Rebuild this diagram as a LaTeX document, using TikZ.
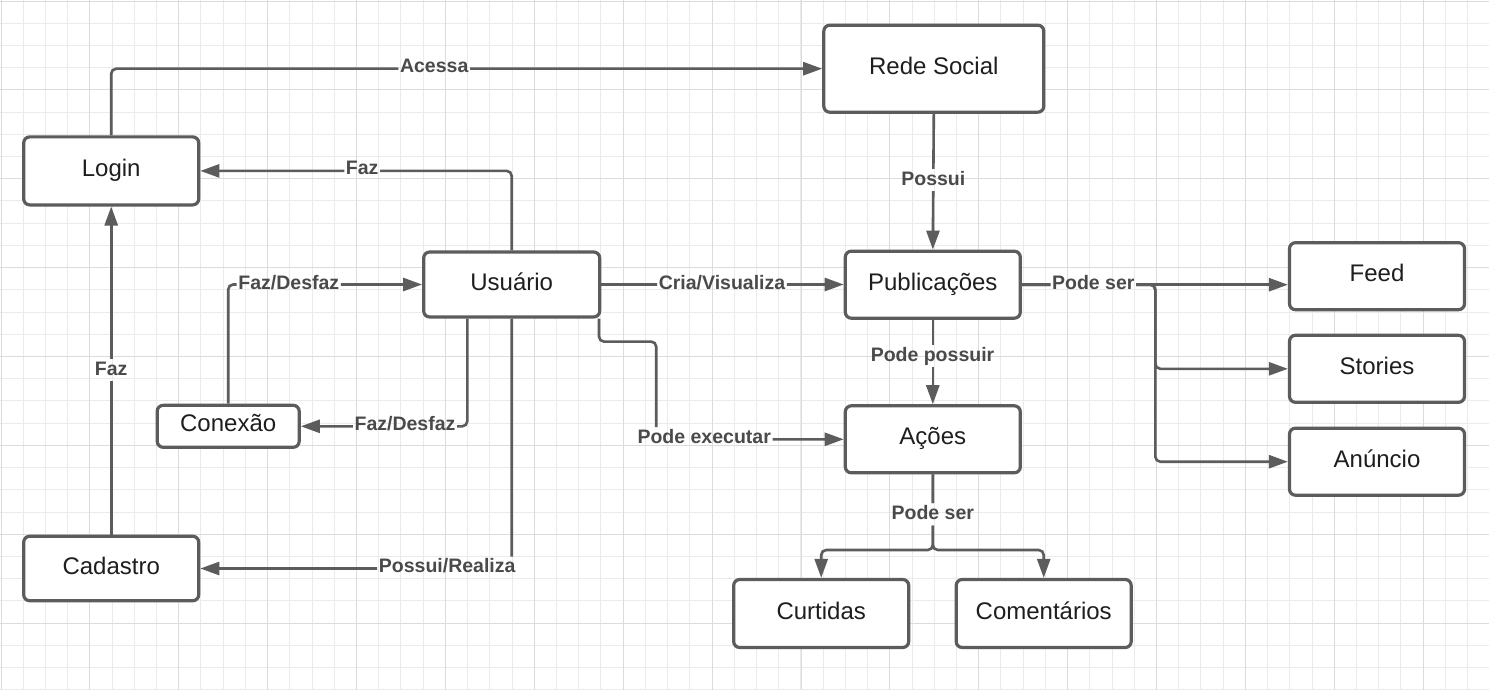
\documentclass[tikz,border=0pt]{standalone}
\usepackage{fontspec}
\setmainfont{Liberation Sans}
\usetikzlibrary{arrows.meta}
\definecolor{gridminor}{HTML}{EBEBEB}
\definecolor{gridmajor}{HTML}{DCDCDC}
\definecolor{linec}{HTML}{5C5C5C}
\definecolor{boxc}{HTML}{5C5C5C}
\definecolor{txtc}{HTML}{1E1E1E}
\definecolor{lblc}{HTML}{4A4A4A}
\tikzset{
  box/.style={draw=boxc, line width=3.2bp, rounded corners=6bp, fill=white, inner sep=0pt,
    minimum width=175bp, minimum height=67bp, text=txtc,
    font=\fontsize{24bp}{28bp}\selectfont, text height=17bp, text depth=6bp},
  lbl/.style={anchor=base, inner sep=1.5bp, text=lblc,
    font=\fontsize{19.5bp}{23bp}\selectfont\bfseries, text height=14.5bp, text depth=4.5bp},
  edge/.style={draw=linec, line width=2.6bp, rounded corners=5bp},
  arr/.style={-{Triangle[length=19bp,width=13bp]}},
  gline/.style={line width=1bp},
}
\begin{document}
\begin{tikzpicture}[x=1bp,y=-1bp]
\useasboundingbox (0,0) rectangle (1489,690);
\fill[white] (0,0) rectangle (1489,690);
% grid (pixel aligned)
\foreach \i in {0,...,67} \draw[gridminor, gline] ({int(1+22.2222*\i)+0.5},0) -- ++(0,690);
\foreach \j in {0,...,31} \draw[gridminor, gline] (0,{int(1+22.2222*\j)+0.5}) -- ++(1489,0);
\foreach \i in {0,...,16} \draw[gridmajor, gline] ({int(1+88.8889*\i)+0.5},0) -- ++(0,690);
\foreach \j in {0,...,7} \draw[gridmajor, gline] (0,{int(1+88.8889*\j)+0.5}) -- ++(1489,0);

% nodes
\node[box, minimum height=68bp] (login) at (111.2,170.9) {Login};
\node[box, minimum height=64.5bp] (cadastro) at (111.2,568.5) {Cadastro};
\node[box, minimum width=176bp, minimum height=65bp] (usuario) at (511.7,284.5) {Usuário};
\node[box, minimum width=220bp, minimum height=87bp] (rede) at (933.8,68.7) {Rede Social};
\node[box] (pub) at (932.8,284.7) {Publicações};
\node[box] (acoes) at (932.8,439.3) {Ações};
\node[box, minimum width=142bp, minimum height=42bp] (conexao) at (228.2,426.3) {Conexão};
\node[box] (feed) at (1377,276.2) {Feed};
\node[box] (stories) at (1377,368.8) {Stories};
\node[box] (anuncio) at (1377,461.7) {Anúncio};
\node[box, minimum height=68bp] (curtidas) at (821.2,613.5) {Curtidas};
\node[box, minimum height=68bp] (coment) at (1043.7,613.5) {Comentários};

% labels
\node[lbl] (lAcessa) at (434.2,72.5) {Acessa};
\node[lbl] (lFazA) at (362.2,174) {Faz};
\node[lbl] (lFazB) at (111.2,375) {Faz};
\node[lbl] (lFDA) at (288.8,289.3) {Faz/Desfaz};
\node[lbl] (lFDB) at (405,430.5) {Faz/Desfaz};
\node[lbl] (lPR) at (447.2,572.7) {Possui/Realiza};
\node[lbl] (lCV) at (722,289.3) {Cria/Visualiza};
\node[lbl] (lPE) at (704.2,443.3) {Pode executar};
\node[lbl] (lPossui) at (933.3,185) {Possui};
\node[lbl] (lPP) at (932.5,361) {Pode possuir};
\node[lbl] (lPSA) at (1093.3,289.3) {Pode ser};
\node[lbl] (lPSB) at (932.8,519.3) {Pode ser};

\coordinate (psplit) at ([xshift=133.4bp]pub.east);
\coordinate (asplit) at (acoes.south |- 0,550);

% edges
\begin{scope}[even odd rule]
\clip (-5,-5) rectangle (1495,695)
  (lAcessa.south west) rectangle (lAcessa.north east)
  (lFazA.south west) rectangle (lFazA.north east)
  (lFazB.south west) rectangle (lFazB.north east)
  (lFDA.south west) rectangle (lFDA.north east)
  (lFDB.south west) rectangle (lFDB.north east)
  (lPR.south west) rectangle (lPR.north east)
  (lCV.south west) rectangle (lCV.north east)
  (lPE.south west) rectangle (lPE.north east)
  (lPossui.south west) rectangle (lPossui.north east)
  (lPP.south west) rectangle (lPP.north east)
  (lPSA.south west) rectangle (lPSA.north east)
  (lPSB.south west) rectangle (lPSB.north east);
\draw[edge,arr] (login.north) |- (rede.west);
\draw[edge,arr] (usuario.north) |- (login.east);
\draw[edge,arr] (cadastro.north) -- (login.south);
\draw[edge,arr] (conexao.north) |- (usuario.west);
\draw[edge,arr] ([xshift=-44.4bp]usuario.south) |- (conexao.east);
\draw[edge,arr] (usuario.south) |- (cadastro.east);
\draw[edge,arr] (usuario.east) -- (usuario.east -| pub.west);
\draw[edge,arr] ([xshift=-2.3bp]usuario.south east) -- ++(0,23) -| ([xshift=-187.5bp]acoes.west) -- (acoes.west);
\draw[edge,arr] (rede.south) -- (pub.north);
\draw[edge,arr] (pub.south) -- (acoes.north);
\draw[edge,arr] (pub.east) -- (pub.east -| feed.west);
\draw[edge,arr] (pub.east) -- (psplit) |- (stories.west);
\draw[edge,arr] (pub.east) -- (psplit) |- (anuncio.west);
\draw[edge,arr] (acoes.south) -- (asplit) -| (curtidas.north);
\draw[edge,arr] (acoes.south) -- (asplit) -| (coment.north);
\end{scope}
\end{tikzpicture}
\end{document}
